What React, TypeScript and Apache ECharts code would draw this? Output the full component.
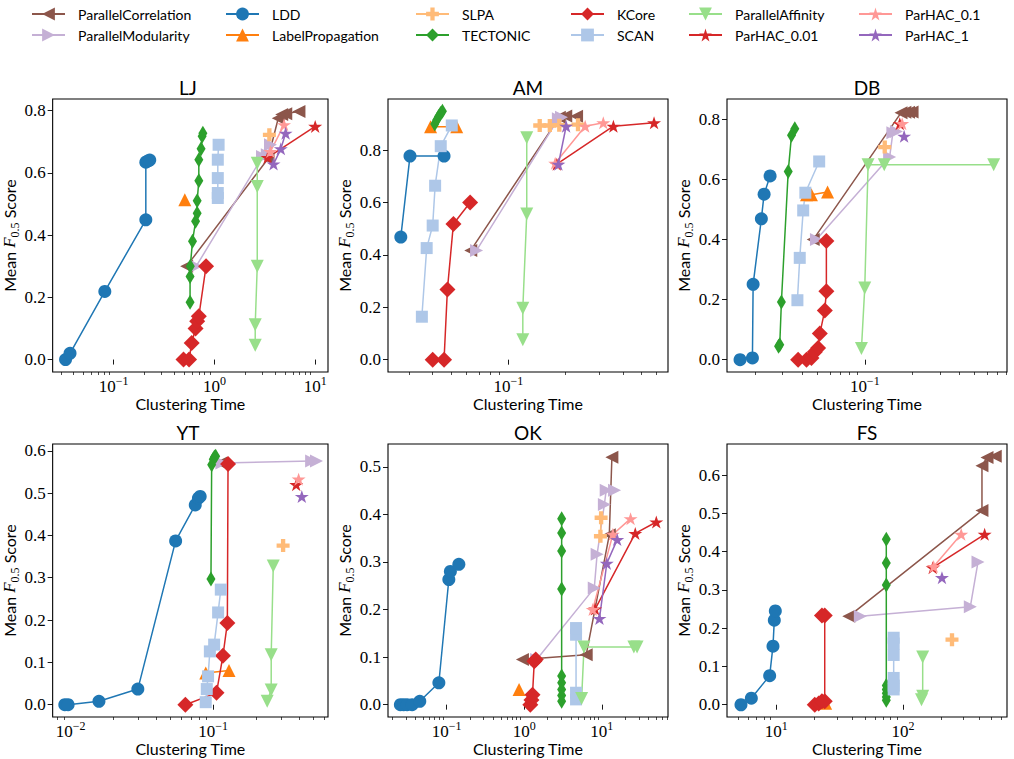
import React, { useEffect, useRef } from "react";
import * as echarts from "echarts";

// ---------- data (Clustering Time, Mean F0.5 Score) ----------
const ALGOS = [
  "ParallelCorrelation", "ParallelModularity", "LDD", "LabelPropagation",
  "SLPA", "TECTONIC", "KCore", "SCAN", "ParallelAffinity",
  "ParHAC_0.01", "ParHAC_0.1", "ParHAC_1",
];

const DATASETS = ["LJ", "AM", "DB", "YT", "OK", "FS"];

const LJ: Record<string, number[][]> = {
  ParallelCorrelation: [[0.53, 0.30], [3.4, 0.645], [4.3, 0.775], [4.65, 0.787], [5.1, 0.79], [6.9, 0.797]],
  ParallelModularity: [[0.66, 0.30], [3.0, 0.652], [3.35, 0.658], [3.6, 0.69]],
  LDD: [[0.0333, 0.0], [0.0369, 0.02], [0.0817, 0.219], [0.2085, 0.449], [0.2085, 0.634], [0.219, 0.638], [0.228, 0.641]],
  LabelPropagation: [[0.508, 0.513]],
  SLPA: [[3.51, 0.722]],
  TECTONIC: [[0.573, 0.184], [0.573, 0.267], [0.576, 0.30], [0.606, 0.38], [0.65, 0.444], [0.674, 0.47], [0.674, 0.51], [0.70, 0.574], [0.70, 0.642], [0.737, 0.677], [0.755, 0.717], [0.768, 0.727]],
  KCore: [[0.493, 0.0], [0.56, 0.0], [0.595, 0.053], [0.65, 0.10], [0.674, 0.123], [0.70, 0.139], [0.826, 0.30]],
  SCAN: [[1.08, 0.519], [1.08, 0.535], [1.08, 0.583], [1.08, 0.642], [1.1, 0.69]],
  ParallelAffinity: [[2.66, 0.631], [2.66, 0.556], [2.66, 0.30], [2.54, 0.112], [2.54, 0.046]],
  "ParHAC_0.01": [[3.37, 0.649], [10.0, 0.749]],
  "ParHAC_0.1": [[3.59, 0.668], [4.91, 0.754]],
  ParHAC_1: [[3.86, 0.628], [4.56, 0.677], [5.09, 0.727]],
};

const AM: Record<string, number[][]> = {
  ParallelCorrelation: [[0.0634, 0.417], [0.185, 0.925], [0.20, 0.93], [0.228, 0.929]],
  ParallelModularity: [[0.068, 0.417], [0.183, 0.92], [0.19, 0.925]],
  LDD: [[0.0272, 0.468], [0.0304, 0.777], [0.0459, 0.777]],
  LabelPropagation: [[0.039, 0.889], [0.0535, 0.889]],
  SLPA: [[0.146, 0.894], [0.165, 0.894], [0.185, 0.895], [0.232, 0.897]],
  TECTONIC: [[0.041, 0.90], [0.042, 0.915], [0.043, 0.928], [0.044, 0.94], [0.045, 0.948]],
  KCore: [[0.040, 0.0], [0.0459, 0.0], [0.0478, 0.268], [0.0514, 0.518], [0.0629, 0.60]],
  SCAN: [[0.0351, 0.164], [0.0372, 0.426], [0.040, 0.512], [0.0412, 0.664], [0.0441, 0.815], [0.0504, 0.894]],
  ParallelAffinity: [[0.1248, 0.847], [0.1248, 0.556], [0.119, 0.196], [0.119, 0.076]],
  "ParHAC_0.01": [[0.1795, 0.746], [0.356, 0.891], [0.582, 0.904]],
  "ParHAC_0.1": [[0.176, 0.75], [0.253, 0.891], [0.315, 0.904]],
  ParHAC_1: [[0.183, 0.746], [0.201, 0.891]],
};

const DB: Record<string, number[][]> = {
  ParallelCorrelation: [[0.047, 0.40], [0.17, 0.822], [0.18, 0.824], [0.19, 0.824], [0.20, 0.825]],
  ParallelModularity: [[0.0493, 0.40], [0.144, 0.675], [0.151, 0.756], [0.159, 0.76]],
  LDD: [[0.0161, 0.0], [0.0193, 0.006], [0.0195, 0.251], [0.022, 0.469], [0.0229, 0.551], [0.025, 0.612]],
  LabelPropagation: [[0.0426, 0.549], [0.0458, 0.549], [0.058, 0.558]],
  SLPA: [[0.134, 0.708]],
  TECTONIC: [[0.0283, 0.045], [0.0288, 0.05], [0.0295, 0.192], [0.0326, 0.627], [0.0342, 0.747], [0.0359, 0.769]],
  KCore: [[0.0377, 0.0], [0.0426, 0.0], [0.0458, 0.006], [0.0481, 0.026], [0.0505, 0.039], [0.0518, 0.087], [0.0557, 0.164], [0.057, 0.228], [0.057, 0.395]],
  SCAN: [[0.0373, 0.198], [0.0386, 0.339], [0.0406, 0.497], [0.0419, 0.556], [0.0513, 0.66]],
  ParallelAffinity: [[0.0953, 0.037], [0.10, 0.239], [0.105, 0.649], [0.133, 0.649], [0.661, 0.649]],
  "ParHAC_0.01": [[0.167, 0.786]],
  "ParHAC_0.1": [[0.173, 0.786]],
  ParHAC_1: [[0.178, 0.744]],
};

const YT: Record<string, number[][]> = {
  ParallelCorrelation: [[0.113, 0.571]],
  ParallelModularity: [[0.115, 0.571], [0.49, 0.576], [0.53, 0.576]],
  LDD: [[0.0091, 0.0], [0.0096, 0.0], [0.0158, 0.008], [0.0296, 0.037], [0.0545, 0.387], [0.0748, 0.472], [0.0787, 0.488], [0.081, 0.492]],
  LabelPropagation: [[0.0886, 0.075], [0.129, 0.081]],
  SLPA: [[0.309, 0.376]],
  TECTONIC: [[0.0964, 0.297], [0.0975, 0.567], [0.1, 0.58], [0.102, 0.585], [0.104, 0.587]],
  KCore: [[0.0638, 0.0], [0.1054, 0.028], [0.117, 0.116], [0.1256, 0.193], [0.127, 0.569]],
  SCAN: [[0.0886, 0.006], [0.0901, 0.037], [0.092, 0.067], [0.0947, 0.126], [0.1015, 0.142], [0.1082, 0.218], [0.113, 0.272]],
  ParallelAffinity: [[0.2636, 0.328], [0.255, 0.118], [0.255, 0.035], [0.239, 0.008]],
  "ParHAC_0.01": [[0.382, 0.52]],
  "ParHAC_0.1": [[0.397, 0.533]],
  ParHAC_1: [[0.418, 0.492]],
};

const OK: Record<string, number[][]> = {
  ParallelCorrelation: [[0.95, 0.095], [6.3, 0.105], [12.5, 0.357], [13.5, 0.52]],
  ParallelModularity: [[1.45, 0.095], [8.0, 0.245], [8.7, 0.316], [10.8, 0.421], [11.4, 0.451], [14.6, 0.451]],
  LDD: [[0.0254, 0.0], [0.028, 0.0], [0.031, 0.0], [0.036, 0.0], [0.0452, 0.007], [0.0796, 0.046], [0.107, 0.263], [0.112, 0.28], [0.144, 0.295]],
  LabelPropagation: [[0.86, 0.032]],
  SLPA: [[9.6, 0.354], [9.8, 0.393]],
  TECTONIC: [[3.04, 0.007], [3.04, 0.019], [3.04, 0.032], [3.04, 0.046], [3.04, 0.06], [3.04, 0.243], [3.04, 0.323], [3.04, 0.361], [3.04, 0.391]],
  KCore: [[1.2, 0.0], [1.24, 0.01], [1.28, 0.021], [1.35, 0.091], [1.41, 0.095]],
  SCAN: [[4.66, 0.011], [4.66, 0.025], [4.66, 0.147], [4.66, 0.161]],
  ParallelAffinity: [[5.5, 0.013], [5.9, 0.121], [25.9, 0.121], [28.5, 0.121]],
  "ParHAC_0.01": [[8.2, 0.201], [27.0, 0.36], [50.4, 0.384]],
  "ParHAC_0.1": [[7.64, 0.20], [13.9, 0.358], [23.5, 0.391]],
  ParHAC_1: [[9.33, 0.181], [11.6, 0.297], [15.8, 0.347]],
};

const FS: Record<string, number[][]> = {
  ParallelCorrelation: [[37.3, 0.231], [420, 0.507], [420, 0.624], [460, 0.646], [535, 0.649]],
  ParallelModularity: [[46, 0.231], [340, 0.256], [391, 0.373]],
  LDD: [[5.26, 0.0], [6.35, 0.017], [8.86, 0.076], [9.41, 0.153], [9.64, 0.221], [9.82, 0.245]],
  LabelPropagation: [[24.5, 0.004]],
  SLPA: [[243.6, 0.17]],
  TECTONIC: [[73.8, 0.012], [73.8, 0.02], [73.8, 0.03], [73.8, 0.04], [73.8, 0.05], [73.8, 0.313], [73.8, 0.37], [73.8, 0.432]],
  KCore: [[20.1, 0.0], [21.6, 0.003], [22.9, 0.009], [24.1, 0.009], [24.1, 0.233], [22.9, 0.233]],
  SCAN: [[84.4, 0.04], [84.4, 0.05], [84.4, 0.07], [84.4, 0.13], [84.4, 0.16], [84.4, 0.175]],
  ParallelAffinity: [[143, 0.125], [143, 0.022], [140, 0.013]],
  "ParHAC_0.01": [[171.5, 0.358], [441, 0.445]],
  "ParHAC_0.1": [[174.6, 0.361], [288, 0.445]],
  ParHAC_1: [[203, 0.332]],
};

const DATA: Record<string, Record<string, number[][]>> = { LJ, AM, DB, YT, OK, FS };

// axis ranges and tick labels
const X_RANGES: number[][] = [[0.0248, 13.4], [0.0233, 0.689], [0.0133, 0.803], [0.00748, 0.638], [0.0176, 71.3], [4.08, 662]];
const Y_RANGES: number[][] = [[-0.04, 0.837], [-0.047, 0.995], [-0.041, 0.868], [-0.029, 0.616], [-0.026, 0.548], [-0.032, 0.681]];
const X_TICKS: number[][] = [[0.1, 1, 10], [0.1], [0.1], [0.01, 0.1], [0.1, 1, 10], [10, 100]];
const Y_TICKS_A = [0, 0.2, 0.4, 0.6, 0.8];
const Y_TICKS_B = [0, 0.1, 0.2, 0.3, 0.4, 0.5, 0.6];
const Y_TICKS_C = [0, 0.1, 0.2, 0.3, 0.4, 0.5];
const Y_TICKS: number[][] = [Y_TICKS_A, Y_TICKS_A, Y_TICKS_A, Y_TICKS_B, Y_TICKS_C, Y_TICKS_B];

// ---------- styles ----------
const COLORS: Record<string, string> = {
  ParallelCorrelation: "#8c564b",
  ParallelModularity: "#c5b0d5",
  LDD: "#1f77b4",
  LabelPropagation: "#ff7f0e",
  SLPA: "#ffbb78",
  TECTONIC: "#2ca02c",
  KCore: "#d62728",
  SCAN: "#aec7e8",
  ParallelAffinity: "#98df8a",
  "ParHAC_0.01": "#d62728",
  "ParHAC_0.1": "#ff9896",
  ParHAC_1: "#9467bd",
};

const STAR = "path://M50,0L61.23,34.55L97.55,34.55L68.17,55.9L79.39,90.45L50,69.1L20.61,90.45L31.83,55.9L2.45,34.55L38.77,34.55Z";
const SYMBOLS: Record<string, string> = {
  ParallelCorrelation: "path://M0,5L10,0L10,10Z",
  ParallelModularity: "path://M10,5L0,0L0,10Z",
  LDD: "circle",
  LabelPropagation: "triangle",
  SLPA: "path://M10,0H20V10H30V20H20V30H10V20H0V10H10Z",
  TECTONIC: "diamond",
  KCore: "diamond",
  SCAN: "rect",
  ParallelAffinity: "path://M0,0L10,0L5,10Z",
  "ParHAC_0.01": STAR,
  "ParHAC_0.1": STAR,
  ParHAC_1: STAR,
};
const SIZES: Record<string, number | number[]> = {
  ParallelCorrelation: 13,
  ParallelModularity: 13,
  LDD: 13,
  LabelPropagation: 13,
  SLPA: 13,
  TECTONIC: [9, 15],
  KCore: 16,
  SCAN: 12,
  ParallelAffinity: 13,
  "ParHAC_0.01": [14, 13],
  "ParHAC_0.1": [14, 13],
  ParHAC_1: [14, 13],
};

const GRID_LEFT = [48, 388, 727];
const GRID_TOP = [99, 444];
const GRID_W = 280;
const GRID_H = 273;

const LEGEND_X = [31, 225, 415, 570, 688, 858];

const SANS = "Lato";
const SERIF = "'Liberation Serif', 'DejaVu Serif', serif";

const SUP: Record<string, string> = { "-": "−" };

function minorTicks(min: number, max: number): number[] {
  const out: number[] = [];
  for (let e = Math.floor(Math.log10(min)); e <= Math.ceil(Math.log10(max)); e++) {
    for (let k = 2; k <= 9; k++) {
      const v = k * Math.pow(10, e);
      if (v > min && v < max) out.push(v);
    }
  }
  return out;
}

function logLabel(v: number): string {
  const e = Math.round(Math.log10(v));
  const s = String(e).split("").map((c) => SUP[c] || c).join("");
  return "{b|10}{e|" + s + "}";
}

function buildOption(): any {
  const grid: any[] = [];
  const xAxis: any[] = [];
  const yAxis: any[] = [];
  const title: any[] = [];
  const series: any[] = [];
  const tickLine = { color: "#000", width: 0.9 };

  DATASETS.forEach((ds, i) => {
    const col = i % 3;
    const row = Math.floor(i / 3);
    const [xmin, xmax] = X_RANGES[i];
    const [ymin, ymax] = Y_RANGES[i];
    grid.push({
      left: GRID_LEFT[col], top: GRID_TOP[row], width: GRID_W, height: GRID_H,
      show: true, borderColor: "#000", borderWidth: 1.1, backgroundColor: "transparent",
    });
    title.push({
      text: ds, left: GRID_LEFT[col] + GRID_W / 2, top: GRID_TOP[row] - 21, textAlign: "center", padding: 0,
      textStyle: { fontFamily: SANS, fontSize: 19, fontWeight: "normal", color: "#000" },
    });
    xAxis.push({
      type: "log", logBase: 10, gridIndex: i, min: xmin, max: xmax, position: "bottom",
      axisLine: { show: false }, splitLine: { show: false }, minorTick: { show: false },
      axisTick: { show: true, customValues: X_TICKS[i], length: 5, lineStyle: tickLine },
      axisLabel: {
        customValues: X_TICKS[i], formatter: logLabel, margin: 3, color: "#000",
        rich: {
          b: { fontFamily: SERIF, fontSize: 17, lineHeight: 22, color: "#000" },
          e: { fontFamily: SERIF, fontSize: 12, lineHeight: 12, verticalAlign: "top", color: "#000" },
        },
      },
      name: "Clustering Time", nameLocation: "middle", nameGap: 21,
      nameTextStyle: { fontFamily: SANS, fontSize: 16, color: "#000" },
    });
    xAxis.push({
      type: "log", logBase: 10, gridIndex: i, min: xmin, max: xmax, position: "bottom",
      axisLine: { show: false }, splitLine: { show: false }, axisLabel: { show: false },
      axisTick: { show: true, customValues: minorTicks(xmin, xmax), length: 3, lineStyle: { color: "#000", width: 0.7 } },
    });
    yAxis.push({
      type: "value", gridIndex: i, min: ymin, max: ymax,
      axisLine: { show: false }, splitLine: { show: false },
      axisTick: { show: true, customValues: Y_TICKS[i], length: 5, lineStyle: tickLine },
      axisLabel: {
        customValues: Y_TICKS[i], formatter: (v: number) => "{n|" + v.toFixed(1) + "}", margin: 7,
        fontFamily: SERIF, fontSize: 17, color: "#000",
        rich: { n: { fontFamily: SERIF, fontSize: 17, color: "#000" } },
      },
      name: "{a|Mean }{f|F}{s|0.5}{a| Score}", nameLocation: "middle", nameGap: 23, nameRotate: 90,
      nameTextStyle: {
        color: "#000",
        rich: {
          a: { fontFamily: SANS, fontSize: 16, lineHeight: 22, color: "#000" },
          f: { fontFamily: SERIF, fontStyle: "italic", fontSize: 17, lineHeight: 22, color: "#000" },
          s: { fontFamily: SERIF, fontSize: 12, lineHeight: 13, verticalAlign: "bottom", color: "#000" },
        },
      },
    });
    const d = DATA[ds];
    ALGOS.forEach((a) => {
      series.push({
        name: a, type: "line", xAxisIndex: i * 2, yAxisIndex: i,
        data: d[a], symbol: SYMBOLS[a], symbolSize: SIZES[a], showSymbol: true,
        itemStyle: { color: COLORS[a], opacity: 1 },
        lineStyle: { color: COLORS[a], width: 1.5 },
        emphasis: { disabled: true }, silent: true, clip: true,
      });
    });
  });

  const legend = [0, 1, 2, 3, 4, 5].map((c) => ({
    data: ALGOS.slice(c * 2, c * 2 + 2),
    orient: "vertical", left: LEGEND_X[c], top: 7, padding: 0,
    itemWidth: 33, itemHeight: 16, itemGap: 7, selectedMode: false,
    textStyle: { fontFamily: SANS, fontSize: 14, color: "#000", padding: [0, 0, 0, 8] },
  }));

  return {
    animation: false,
    backgroundColor: "#fff",
    title, grid, xAxis, yAxis, series, legend,
  };
}

export default function App() {
  const ref = useRef<HTMLDivElement>(null);
  useEffect(() => {
    if (!ref.current) return;
    const chart = echarts.init(ref.current, null, { renderer: "svg" });
    chart.setOption(buildOption());
    return () => chart.dispose();
  }, []);
  return (
    <div
      ref={ref}
      style={{ position: "fixed", left: 0, top: 0, width: 1014, height: 759, background: "#fff" }}
    />
  );
}
